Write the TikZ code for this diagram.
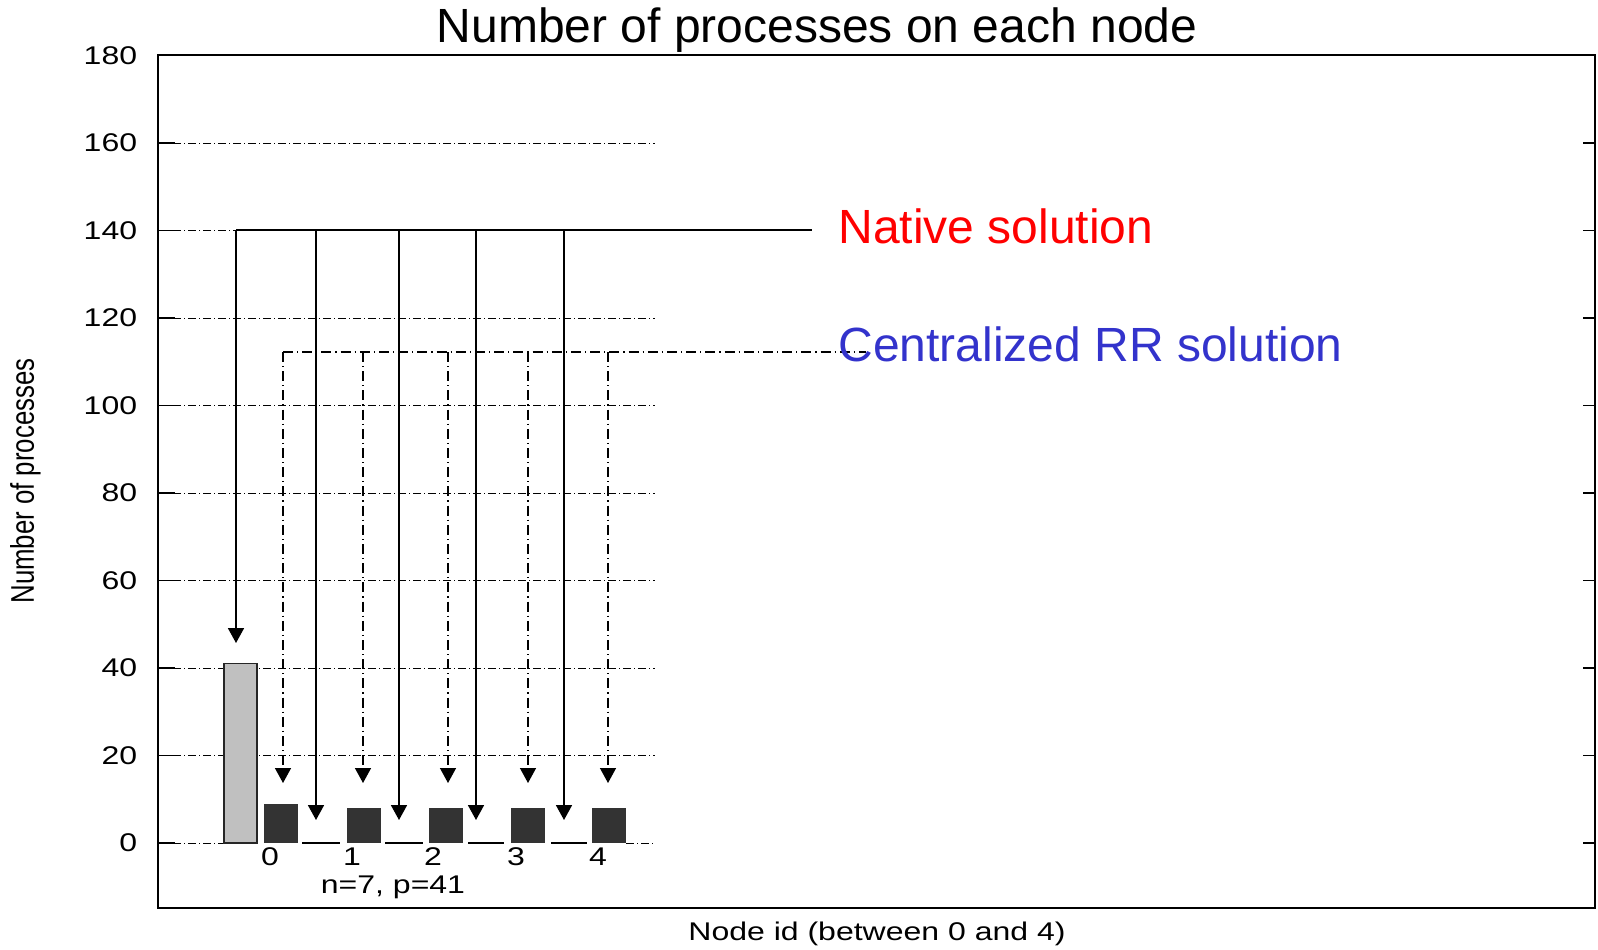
\documentclass[tikz,border=0pt]{standalone}
\usepackage{fontspec}
\setmainfont{Liberation Sans}
\usepackage{xcolor}
\usetikzlibrary{arrows.meta}
\definecolor{barlight}{RGB}{192,192,192}
\definecolor{bardark}{RGB}{51,51,51}
\definecolor{rrblue}{RGB}{51,51,204}

\begin{document}
\begin{tikzpicture}[x=0.5pt, y=-0.5pt,
  gridline/.style={line width=0.5pt, dash pattern=on 4pt off 1.5pt on 0.5pt off 1.5pt},
  chartfont/.style={font=\fontsize{12.8}{14}\selectfont, xscale=1.25, inner sep=0pt},
  nativearrow/.style={line width=0.9pt, -{Triangle[width=8pt,length=7.5pt]}},
  rrline/.style={line width=0.7pt, dash pattern=on 5pt off 2pt on 0.6pt off 2pt},
  rrarrow/.style={rrline, -{Triangle[width=8pt,length=7.5pt]}},
  bigfont/.style={font=\fontsize{24}{28}\selectfont, inner sep=0pt, anchor=base west}]
  \useasboundingbox (0,0) rectangle (1598,949);

  % Title
  \node[font=\fontsize{24}{28}\selectfont, anchor=base, inner sep=0pt] (title) at (817,42) {Number of processes on each node};

  % Grid
  \foreach \v in {20,40,...,160}
    \draw[gridline] (158,{843-4.375*\v}) -- (655,{843-4.375*\v});
  \draw[gridline] (158,843) -- (224,843);
  \draw[gridline] (626,843) -- (655,843);
  \foreach \a/\b in {302/340, 385/423, 468/504, 551/587}
    \draw[line width=0.6pt] (\a,843) -- (\b,843);

  % Frame and ticks
  \draw[line width=1pt] (158,55) rectangle (1595,908);
  \foreach \v in {0,20,...,160} {
    \draw[line width=0.6pt] (158,{843-4.375*\v}) -- +(17,0);
    \draw[line width=0.6pt] (1595,{843-4.375*\v}) -- +(-12,0);
  }
  \foreach \v in {0,20,...,180}
    \node[chartfont, anchor=east] (y\v) at (137.6,{843-4.375*\v}) {\v};

  % Axis labels
  \node[font=\fontsize{12.9}{14}\selectfont, rotate=90, yscale=1.27, inner sep=0pt] (ylabel) at (25.5,481) {Number of processes};
  \node[chartfont] (xlabel) at (877,934) {Node id (between 0 and 4)};

  % Bars
  \filldraw[fill=barlight, draw=black!85, line width=0.8pt] (224,843) rectangle (257,{843-4.375*41});
  \foreach \c/\v in {281/9, 363.5/8, 446/8, 527.5/8, 609/8}
    \fill[bardark] ({\c-17},843) rectangle ({\c+17},{843-4.375*\v});
  \foreach \i/\x in {0/270, 1/352, 2/433, 3/516, 4/598}
    \node[chartfont] (tick\i) at (\x,857) {\i};
  \node[chartfont] (params) at (393,887) {n=7, p=41};

  % Native solution
  \draw[line width=0.9pt] (236,230) -- (812,230);
  \draw[nativearrow] (236,230) -- (236,643);
  \foreach \x in {316,399,476,564}
    \draw[nativearrow] (\x,230) -- (\x,820);
  \node[bigfont, text=red] (native) at (838,243) {Native solution};

  % Centralized RR solution
  \draw[rrline] (283,352) -- (866,352);
  \foreach \x in {283,363,448,528,608}
    \draw[rrarrow] (\x,352) -- (\x,783);
  \node[bigfont, text=rrblue] (central) at (838,361) {Centralized RR solution};
\end{tikzpicture}
\end{document}
